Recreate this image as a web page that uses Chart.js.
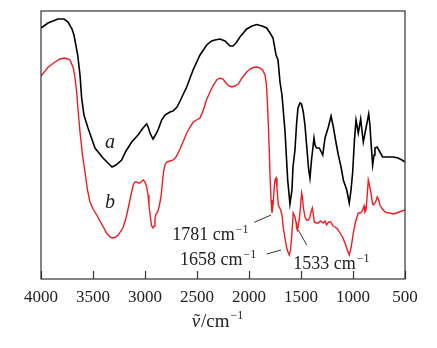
<!DOCTYPE html>
<html><head><meta charset="utf-8">
<script src="https://cdn.jsdelivr.net/npm/chart.js@4/dist/chart.umd.min.js"></script>
<style>html,body{margin:0;padding:0;background:#fff;}</style>
</head><body>
<canvas id="c" width="437" height="348" style="display:block;width:437px;height:348px"></canvas>
<script>
// x tick labels (wavenumber, cm-1)
const xTicks = [4000,3500,3000,2500,2000,1500,1000,500];

// curve a (black)
const wnA = [4000,3933,3837,3779,3740,3702,3683,3647,3625,3609,3587,3548,3481,3404,3356,3317,3279,3224,3183,3128,3067,3019,2984,2966,2952,2923,2894,2875,2840,2808,2760,2731,2692,2663,2599,2538,2471,2407,2359,2327,2279,2231,2183,2154,2125,2087,2022,1971,1926,1875,1830,1798,1769,1740,1721,1702,1683,1654,1628,1606,1587,1577,1558,1542,1529,1510,1495,1478,1462,1446,1428,1414,1399,1388,1375,1365,1351,1324,1291,1269,1237,1211,1189,1168,1141,1115,1093,1060,1036,1019,1003,986,971,949,926,909,901,875,849,837,827,811,798,789,767,741,715,676,613,567,529,500];
const transA = [251,256,260,260,257,250,244,224,204,181,164,151,131,121,116,112,114,119,128,137,144,151,155,151,146,140,145,149,159,164,167,168,172,178,192,209,224,234,238,239,240,238,233,233,236,242,250,253,254.5,253,251,246,241,224,219,197,184,148,99,75,89,112,129,156,171,176,175,167,154,134,111,101,119,129,141,134,131,131,124,141,152,163,152,139,124,112,99,89,76,89,107,139,159,146,160,144,137,151,165,154,137,114,124,131,132,127,122,122,122,121,119,117];

// curve b (red)
const wnB = [4000,3930,3865,3817,3776,3740,3721,3689,3673,3657,3644,3625,3601,3577,3553,3529,3500,3464,3433,3401,3370,3337,3314,3288,3257,3231,3209,3183,3161,3135,3113,3096,3080,3063,3048,3029,3016,3000,2984,2971,2962,2947,2936,2923,2913,2904,2894,2878,2865,2846,2832,2822,2808,2792,2760,2728,2702,2663,2635,2599,2567,2536,2505,2471,2439,2409,2375,2342,2311,2279,2250,2221,2192,2166,2135,2103,2067,2022,1990,1959,1923,1894,1870,1846,1832,1824,1814,1805,1798,1788,1779,1769,1757,1750,1740,1731,1718,1695,1683,1670,1654,1638,1625,1613,1601,1590,1582,1575,1568,1558,1548,1542,1534,1526,1517,1505,1494,1486,1478,1462,1446,1428,1414,1404,1391,1382,1372,1356,1334,1313,1286,1269,1253,1236,1214,1192,1173,1149,1125,1101,1077,1055,1036,1019,997,976,949,933,917,904,894,885,875,863,853,842,827,814,805,782,767,753,741,717,692,663,644,613,580,558,529,500];
const transB = [203,212,217,220,221,220,219,211,201,187,169,147,124,107,89,77,70,64,58,52,46,42,41,41.5,44,48,52,61,71,84,94,97,97,96,96,98,99,97,92,84,74,61,53,51,53,61,65,67,72,82,97,107,114,117,118,119,122,130,137,146,152,157,159,161,169,179,187,194,199,201,200,196,193,192,193,195,201,207,210,211.5,212,211,209,204,194,179,154,129,104,79,66,74,92,99,101,91,74,69,64,51,41,31,27,24,29,42,54,66,66,62,57,51,49,54,59,72,86,82,72,62,59,59,62,67,71,65,57,56,56,58,56,58,54,57,57,53,52,50,46,42,36,29,24,31,46,57,66,66,67,70,73,67,69,84,99,94,86,76,74,77,82,79,74,70,67,66,66,65,66,67,68,69];

// curve labels (data coordinates)
const curveNames = ['a','b'];
const curveNameWn = [3337,3337];
const curveNameT = [136,76];

// peak annotations (data coordinates)
const peakText = ['1781 cm','1658 cm','1533 cm'];
const peakTextWn = [2738,2663,1574];
const peakTextT = [39.5,14,10];
const leaderFromWn = [1949,1830,1445];
const leaderFromT = [56.7,25,34];
const leaderToWn = [1788,1692,1526];
const leaderToT = [64,29,49];

const SERIF = '"Liberation Serif", "Times New Roman", serif';

function toPts(xs, ys){ const n=Math.min(xs.length,ys.length); const o=[]; for(let i=0;i<n;i++) o.push({x:xs[i],y:ys[i]}); return o; }

function drawSup(ctx, x, y, main, size, supSize){
  ctx.textBaseline='alphabetic'; ctx.textAlign='left';
  ctx.font = size+'px '+SERIF;
  ctx.fillText(main, x, y);
  const w = ctx.measureText(main).width;
  ctx.font = supSize+'px '+SERIF;
  ctx.fillText('\u22121', x+w+1, y-7);
}

const deco = {
  id:'deco',
  afterDraw(chart){
    const ctx = chart.ctx, a = chart.chartArea, xs = chart.scales.x, ys = chart.scales.y;
    ctx.save();
    // frame
    ctx.strokeStyle = '#333'; ctx.lineWidth = 1.2;
    ctx.strokeRect(a.left, a.top, a.right-a.left, a.bottom-a.top);
    // inner tick marks
    ctx.lineWidth = 1.2;
    xTicks.forEach(v=>{
      const px = Math.round(xs.getPixelForValue(v))+0.5;
      ctx.beginPath(); ctx.moveTo(px, a.bottom); ctx.lineTo(px, a.bottom-8); ctx.stroke();
    });
    // curve labels
    ctx.fillStyle = '#222';
    ctx.font = 'italic 20px '+SERIF; ctx.textAlign='center'; ctx.textBaseline='middle';
    curveNames.forEach((t,i)=>{
      ctx.fillText(t, xs.getPixelForValue(curveNameWn[i]), ys.getPixelForValue(curveNameT[i]));
    });
    // leaders + peak labels
    ctx.strokeStyle = '#333'; ctx.lineWidth = 1;
    peakText.forEach((t,i)=>{
      ctx.beginPath();
      ctx.moveTo(xs.getPixelForValue(leaderFromWn[i]), ys.getPixelForValue(leaderFromT[i]));
      ctx.lineTo(xs.getPixelForValue(leaderToWn[i]), ys.getPixelForValue(leaderToT[i]));
      ctx.stroke();
      drawSup(ctx, xs.getPixelForValue(peakTextWn[i]), ys.getPixelForValue(peakTextT[i]), t, 18, 12);
    });
    // axis title  ν̃/cm-1
    const cx = (a.left+a.right)/2 - 6, by = 327;
    ctx.textBaseline='alphabetic'; ctx.textAlign='left';
    ctx.font = 'italic 19px '+SERIF; const wNu = ctx.measureText('\u03bd').width;
    ctx.font = '19px '+SERIF; const wCm = ctx.measureText('/cm').width;
    ctx.font = '12px '+SERIF; const wSup = ctx.measureText('\u22121').width;
    const total = wNu + wCm + 1 + wSup;
    let x0 = cx - total/2;
    ctx.font = 'italic 19px '+SERIF; ctx.fillText('\u03bd', x0, by);
    ctx.font = '19px '+SERIF; ctx.textAlign='center'; ctx.fillText('\u02dc', x0+wNu/2+1, by);
    ctx.textAlign='left'; ctx.fillText('/cm', x0+wNu+1, by);
    ctx.font = '12px '+SERIF; ctx.fillText('\u22121', x0+wNu+wCm+2, by-8);
    ctx.restore();
  }
};

new Chart(document.getElementById('c'), {
  type:'line',
  data:{ datasets:[
    {label:'a', data:toPts(wnA,transA), borderColor:'#000', borderWidth:1.6, pointRadius:0, tension:0, fill:false},
    {label:'b', data:toPts(wnB,transB), borderColor:'#f01c22', borderWidth:1.4, pointRadius:0, tension:0, fill:false}
  ]},
  options:{
    responsive:false, animation:false, devicePixelRatio:1,
    layout:{padding:{left:41,right:32,top:11,bottom:0}},
    plugins:{legend:{display:false}, tooltip:{enabled:false}, title:{display:false}},
    scales:{
      x:{type:'linear', reverse:true, min:500, max:4000,
         afterBuildTicks:s=>{ s.ticks = xTicks.map(v=>({value:v})); },
         afterFit:s=>{ s.height = 69; },
         grid:{display:false, drawTicks:false}, border:{display:false},
         ticks:{font:{family:SERIF, size:17}, color:'#222', padding:8, maxRotation:0, autoSkip:false,
                callback:v=>String(v)}},
      y:{display:false, min:0, max:268}
    }
  },
  plugins:[deco]
});
</script>
</body></html>
